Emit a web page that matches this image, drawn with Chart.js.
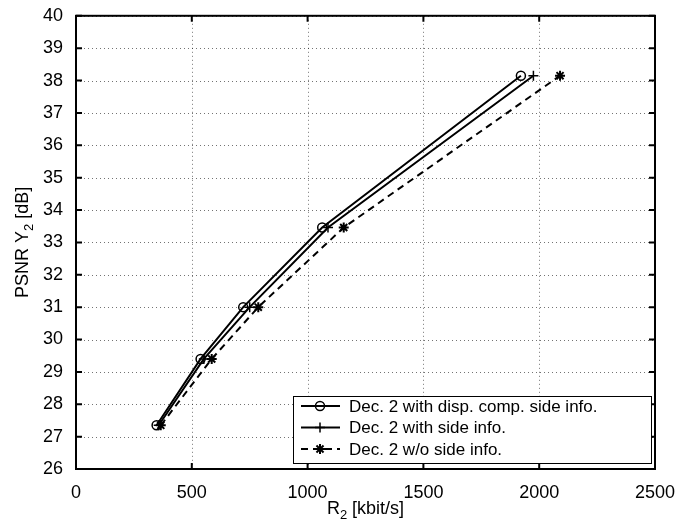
<!DOCTYPE html>
<html>
<head>
<meta charset="utf-8">
<script src="https://cdn.jsdelivr.net/npm/chart.js@4.4.1/dist/chart.umd.min.js"></script>
<style>
  html, body { margin: 0; padding: 0; background: #fff; }
  #wrap { width: 693px; height: 520px; }
</style>
</head>
<body>
<div id="wrap"><canvas id="psnrChart" width="693" height="520"></canvas></div>
<script>
// values
const psnrValues = [27.35, 29.40, 31.0, 33.46, 38.15];
const rateDispComp = [348, 538, 722, 1063, 1921];
const rateSideInfo = [357, 552, 750, 1088, 1975];
const rateNoSide = [366, 586, 787, 1156, 2090];
const seriesLabels = [
    'Dec. 2 with disp. comp. side info.',
    'Dec. 2 with side info.',
    'Dec. 2 w/o side info.'
];
const xTicks = [0, 500, 1000, 1500, 2000, 2500];
const yTicks = [26, 27, 28, 29, 30, 31, 32, 33, 34, 35, 36, 37, 38, 39, 40];

const FONT = '"Liberation Sans", Arial, Helvetica, sans-serif';

function toPoints(rates) {
    return rates.map((r, i) => ({ x: r, y: psnrValues[i] }));
}

// dotted grid, frame, inward ticks, axis titles with subscripts, legend
const framePlugin = {
    id: 'matlabFrame',
    beforeDatasetsDraw(chart) {
        const { ctx, chartArea: a, scales } = chart;
        ctx.save();
        ctx.strokeStyle = 'rgba(0,0,0,0.55)';
        ctx.lineWidth = 1;
        ctx.setLineDash([1, 3]);
        ctx.beginPath();
        xTicks.forEach(v => {
            const px = Math.round(scales.x.getPixelForValue(v)) + 0.5;
            ctx.moveTo(px, a.top); ctx.lineTo(px, a.bottom);
        });
        yTicks.forEach(v => {
            const py = Math.round(scales.y.getPixelForValue(v)) + 0.5;
            ctx.moveTo(a.left, py); ctx.lineTo(a.right, py);
        });
        ctx.stroke();
        ctx.restore();
    },
    afterDraw(chart) {
        const { ctx, chartArea: a, scales } = chart;
        ctx.save();
        ctx.strokeStyle = '#000';
        ctx.lineWidth = 2;
        ctx.setLineDash([]);
        ctx.strokeRect(a.left, a.top, a.right - a.left, a.bottom - a.top);

        const tl = 6;
        ctx.beginPath();
        xTicks.forEach(v => {
            const px = scales.x.getPixelForValue(v);
            ctx.moveTo(px, a.bottom); ctx.lineTo(px, a.bottom - tl);
            ctx.moveTo(px, a.top); ctx.lineTo(px, a.top + tl);
        });
        yTicks.forEach(v => {
            const py = scales.y.getPixelForValue(v);
            ctx.moveTo(a.left, py); ctx.lineTo(a.left + tl, py);
            ctx.moveTo(a.right, py); ctx.lineTo(a.right - tl, py);
        });
        ctx.stroke();

        // x title: R_2 [kbit/s]
        ctx.fillStyle = '#000';
        ctx.textBaseline = 'alphabetic';
        const big = '18px ' + FONT, small = '13px ' + FONT;
        ctx.font = big;
        const wR = ctx.measureText('R').width;
        const wRest = ctx.measureText(' [kbit/s]').width;
        ctx.font = small;
        const w2 = ctx.measureText('2').width;
        let x0 = (a.left + a.right) / 2 - (wR + w2 + wRest) / 2;
        const yb = 514;
        ctx.font = big; ctx.fillText('R', x0, yb);
        ctx.font = small; ctx.fillText('2', x0 + wR, yb + 5);
        ctx.font = big; ctx.fillText(' [kbit/s]', x0 + wR + w2, yb);

        // y title: PSNR Y_2 [dB]
        ctx.save();
        ctx.translate(28, (a.top + a.bottom) / 2);
        ctx.rotate(-Math.PI / 2);
        ctx.font = big;
        const wA = ctx.measureText('PSNR Y').width;
        const wB = ctx.measureText(' [dB]').width;
        ctx.font = small;
        const wS = ctx.measureText('2').width;
        x0 = -(wA + wS + wB) / 2;
        ctx.font = big; ctx.fillText('PSNR Y', x0, 0);
        ctx.font = small; ctx.fillText('2', x0 + wA, 5);
        ctx.font = big; ctx.fillText(' [dB]', x0 + wA + wS, 0);
        ctx.restore();

        // legend box
        const box = { left: 293, top: 396, right: 651, bottom: 463 };
        ctx.fillStyle = '#fff';
        ctx.fillRect(box.left, box.top, box.right - box.left, box.bottom - box.top);
        ctx.strokeStyle = '#000';
        ctx.lineWidth = 1;
        ctx.strokeRect(box.left + 0.5, box.top + 0.5, box.right - box.left, box.bottom - box.top);
        const rows = [406, 427.5, 449];
        chart.data.datasets.forEach((ds, i) => {
            const y = rows[i];
            ctx.strokeStyle = '#000';
            ctx.lineWidth = ds.borderWidth;
            ctx.setLineDash(ds.borderDash || []);
            ctx.beginPath();
            ctx.moveTo(301, y); ctx.lineTo(340, y);
            ctx.stroke();
            ctx.setLineDash([]);
            ctx.lineWidth = ds.pointBorderWidth;
            ctx.fillStyle = ds.pointBackgroundColor;
            Chart.helpers.drawPoint(ctx, {
                pointStyle: ds.pointStyle, radius: ds.pointRadius, rotation: 0, borderWidth: ds.pointBorderWidth
            }, 320, y);
            ctx.fillStyle = '#000';
            ctx.font = '17px ' + FONT;
            ctx.textBaseline = 'middle';
            ctx.fillText(ds.label, 349, y + 1);
        });
        ctx.restore();
    }
};

const ctx = document.getElementById('psnrChart').getContext('2d');
const chart = new Chart(ctx, {
    type: 'line',
    data: {
        datasets: [{
            label: seriesLabels[0],
            data: toPoints(rateDispComp),
            borderColor: '#000',
            borderWidth: 2,
            pointStyle: 'circle',
            pointRadius: 4.5,
            pointBorderWidth: 1.5,
            pointBorderColor: '#000',
            pointBackgroundColor: 'rgba(0,0,0,0)'
        }, {
            label: seriesLabels[1],
            data: toPoints(rateSideInfo),
            borderColor: '#000',
            borderWidth: 2,
            pointStyle: 'cross',
            pointRadius: 5,
            pointBorderWidth: 1.5,
            pointBorderColor: '#000',
            pointBackgroundColor: '#000'
        }, {
            label: seriesLabels[2],
            data: toPoints(rateNoSide),
            borderColor: '#000',
            borderWidth: 2,
            borderDash: [7, 5],
            pointStyle: 'star',
            pointRadius: 5,
            pointBorderWidth: 2,
            pointBorderColor: '#000',
            pointBackgroundColor: '#000'
        }]
    },
    options: {
        responsive: false,
        animation: false,
        devicePixelRatio: 1,
        layout: { padding: { left: 0, top: 13, right: 38, bottom: 0 } },
        plugins: {
            legend: { display: false },
            tooltip: { enabled: false }
        },
        scales: {
            x: {
                type: 'linear',
                min: 0,
                max: 2500,
                afterFit: s => { s.height = 51; },
                afterBuildTicks: s => { s.ticks = xTicks.map(v => ({ value: v })); },
                ticks: {
                    color: '#000', font: { family: FONT, size: 18 }, padding: 5, maxRotation: 0,
                    callback: v => String(v)
                },
                grid: { display: false },
                border: { display: false }
            },
            y: {
                min: 26,
                max: 40,
                afterFit: s => { s.width = 76; },
                afterBuildTicks: s => { s.ticks = yTicks.map(v => ({ value: v })); },
                ticks: {
                    color: '#000', font: { family: FONT, size: 18 }, padding: 5,
                    callback: v => String(v)
                },
                grid: { display: false },
                border: { display: false }
            }
        }
    },
    plugins: [framePlugin]
});
</script>
</body>
</html>
